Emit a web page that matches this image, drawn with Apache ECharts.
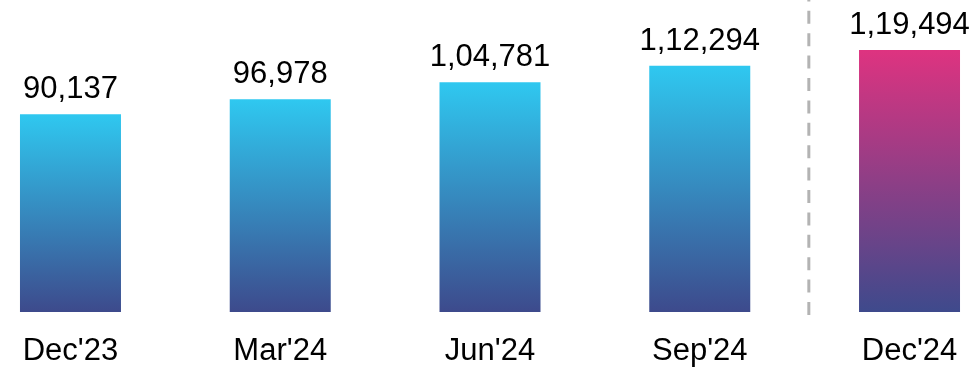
<!DOCTYPE html>
<html>
<head>
<meta charset="utf-8">
<script src="https://cdn.jsdelivr.net/npm/echarts@6/dist/echarts.min.js"></script>
<style>
  html, body { margin: 0; padding: 0; background: #fff; }
  #chart { width: 977px; height: 367px; }
</style>
</head>
<body>
<div id="chart"></div>
<script>
const categories = ["Dec'23", "Mar'24", "Jun'24", "Sep'24", "Dec'24"];
const values = [90137, 96978, 104781, 112294, 119494];
// separator between the quarters and the latest one
const dividerAt = 3.52;

// Indian digit grouping: 1,19,494
function inr(n) {
  const s = String(n);
  if (s.length <= 3) return s;
  const last3 = s.slice(-3);
  const rest = s.slice(0, -3).replace(/\B(?=(\d{2})+(?!\d))/g, ',');
  return rest + ',' + last3;
}

const blueGrad = new echarts.graphic.LinearGradient(0, 0, 0, 1, [
  { offset: 0, color: '#2FC8F0' },
  { offset: 1, color: '#3D4A8C' }
]);
const pinkGrad = new echarts.graphic.LinearGradient(0, 0, 0, 1, [
  { offset: 0, color: '#DE3380' },
  { offset: 1, color: '#3E4A8C' }
]);

const chart = echarts.init(document.getElementById('chart'));
chart.setOption({
  animation: false,
  grid: {
    left: -34.4, right: -37.4, top: 5, bottom: 55,
    containLabel: false,
    outerBoundsMode: 'none'
  },
  xAxis: [{
    type: 'category',
    data: categories,
    axisLine: { show: false },
    axisTick: { show: false },
    axisLabel: {
      margin: 24,
      fontSize: 31,
      color: '#000',
      fontFamily: 'Liberation Sans'
    }
  }, {
    type: 'value',
    min: -0.5,
    max: 4.5,
    show: false
  }],
  yAxis: [{
    type: 'value',
    min: 0,
    max: 140000,
    show: false,
    splitLine: { show: false }
  }, {
    type: 'value',
    min: 0,
    max: 1,
    show: false,
    splitLine: { show: false }
  }],
  series: [{
    type: 'bar',
    barWidth: 101,
    data: values.map((v, i) => ({
      value: v,
      itemStyle: { color: i === values.length - 1 ? pinkGrad : blueGrad }
    })),
    label: {
      show: true,
      position: 'top',
      distance: 9,
      fontSize: 31,
      color: '#000',
      fontFamily: 'Liberation Sans',
      formatter: p => inr(p.value)
    }
  }, {
    type: 'line',
    xAxisIndex: 1,
    yAxisIndex: 1,
    clip: false,
    symbol: 'none',
    silent: true,
    lineStyle: { color: '#B3B3B3', width: 3, type: [13, 9.4], dashOffset: 11.4, cap: 'butt' },
    data: [[dividerAt, 1.017], [dividerAt, -0.01]]
  }]
});
</script>
</body>
</html>
